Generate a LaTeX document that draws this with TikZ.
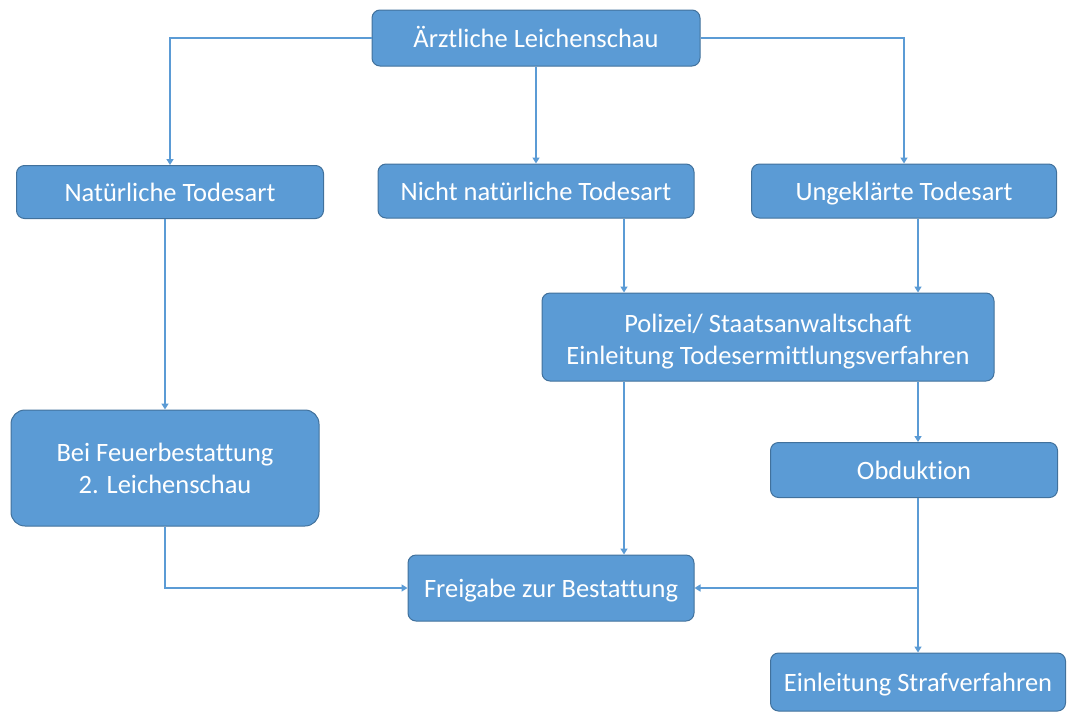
\documentclass[tikz,border=0pt]{standalone}
\usepackage{fontspec}
\setmainfont[Ligatures={NoCommon}]{Carlito}
\usetikzlibrary{arrows.meta}
\definecolor{boxfill}{HTML}{5B9BD5}
\definecolor{boxline}{HTML}{41719C}
\definecolor{connc}{HTML}{5B9BD5}
\begin{document}
\begin{tikzpicture}[x=1pt,y=-1pt,
  box/.style={draw=boxline, line width=1pt, fill=boxfill, rounded corners=8pt,
    text=white, font=\fontsize{26.5}{32}\selectfont, align=center, inner sep=0pt},
  onel/.style={text height=20pt, text depth=2pt},
  conn/.style={draw=connc, line width=1.6pt, -{Triangle[width=7pt,length=6pt]}}]
\useasboundingbox (0,0) rectangle (1070,713);
\node[box, onel, minimum width=328pt, minimum height=56pt] (a) at (536,38) {Ärztliche Leichenschau};
\node[box, onel, minimum width=307pt, minimum height=53pt] (nat) at (170,192) {Natürliche Todesart};
\node[box, onel, minimum width=316pt, minimum height=54pt] (nnat) at (536,191) {Nicht natürliche Todesart};
\node[box, onel, minimum width=305pt, minimum height=54pt] (ung) at (904,191) {Ungeklärte Todesart};
\node[box, minimum width=452pt, minimum height=88pt] (pol) at (768,337) {\rule{0pt}{27pt}Polizei/ Staatsanwaltschaft\\Einleitung Todesermittlungsverfahren};
\node[box, minimum width=308pt, minimum height=116pt, rounded corners=14pt] (feu) at (165,468) {Bei Feuerbestattung\\2. Leichenschau};
\node[box, onel, minimum width=287pt, minimum height=55pt] (obd) at (914,470) {Obduktion};
\node[box, onel, minimum width=286pt, minimum height=66pt] (frei) at (551,588) {Freigabe zur Bestattung};
\node[box, onel, minimum width=295pt, minimum height=58pt] (straf) at (918,682) {Einleitung Strafverfahren};
\coordinate (c1) at (624,0);
\coordinate (c2) at (918,0);
\coordinate (c3) at (165,0);
\draw[conn] (a.west) -| (nat.north);
\draw[conn] (a.south) -- (nnat.north);
\draw[conn] (a.east) -| (ung.north);
\draw[conn] (nnat.south -| c1) -- (pol.north -| c1);
\draw[conn] (ung.south -| c2) -- (pol.north -| c2);
\draw[conn] (nat.south -| c3) -- (feu.north -| c3);
\draw[conn] (feu.south -| c3) |- (frei.west);
\draw[conn] (pol.south -| c1) -- (frei.north -| c1);
\draw[conn] (pol.south -| c2) -- (obd.north -| c2);
\draw[conn] (obd.south -| c2) -- (straf.north -| c2);
\draw[conn] (frei.east -| c2) -- (frei.east);
\end{tikzpicture}
\end{document}
